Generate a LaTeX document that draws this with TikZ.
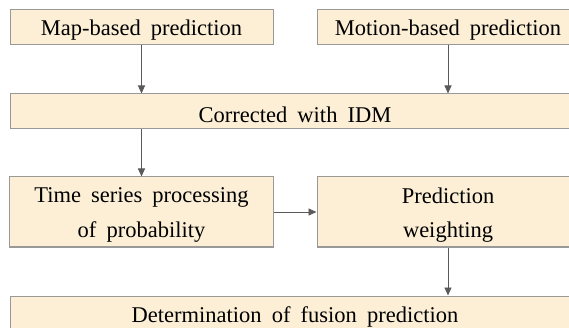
\documentclass[tikz,border=0pt]{standalone}
\usepackage{fontspec}
\setmainfont{Liberation Serif}[WordSpace={1.8}]
\usetikzlibrary{arrows.meta}
\definecolor{boxfill}{HTML}{FCEFD6}
\definecolor{boxline}{HTML}{999999}
\definecolor{arrowc}{HTML}{5A5A5A}
\begin{document}
\begin{tikzpicture}[x=1pt,y=-1pt,
  box/.style={draw=boxline, fill=boxfill, line width=1pt, inner sep=0pt},
  lbl/.style={inner sep=0pt, align=center, yshift=-3pt,
    font=\fontsize{22.5}{34.5}\selectfont, text=black},
  conn/.style={draw=arrowc, line width=0.9pt, -{Triangle[length=8pt,width=7pt]}}]
\useasboundingbox (0,0) rectangle (569,328);
\clip (0,0) rectangle (569,328);
\node[box, minimum width=263pt, minimum height=35pt] (b1) at (141.5,27.5) {};
\node[box, minimum width=262pt, minimum height=35pt] (b2) at (448,27.5) {};
\node[box, minimum width=570pt, minimum height=35pt] (b3) at (295,111.5) {};
\node[box, minimum width=264pt, minimum height=70pt] (b4) at (141.5,212) {};
\node[box, minimum width=262pt, minimum height=70pt] (b5) at (448,212) {};
\node[box, minimum width=570pt, minimum height=35pt] (b6) at (295,313.5) {};
\node[lbl] (t1) at (b1.center) {Map-based prediction};
\node[lbl] (t2) at (b2.center) {Motion-based prediction};
\node[lbl] (t3) at (b3.center) {Corrected with IDM};
\node[lbl] (t4) at (b4.center) {Time series processing\\of probability};
\node[lbl] (t5) at (b5.center) {Prediction\\weighting};
\node[lbl] (t6) at (b6.center) {Determination of fusion prediction};
\draw[conn] (b1.south) -- (b1.south |- b3.north);
\draw[conn] (b2.south) -- (b2.south |- b3.north);
\draw[conn] (b4.north |- b3.south) -- (b4.north);
\draw[conn] (b4.east) -- (b5.west);
\draw[conn] (b5.south) -- (b5.south |- b6.north);
\end{tikzpicture}
\end{document}
